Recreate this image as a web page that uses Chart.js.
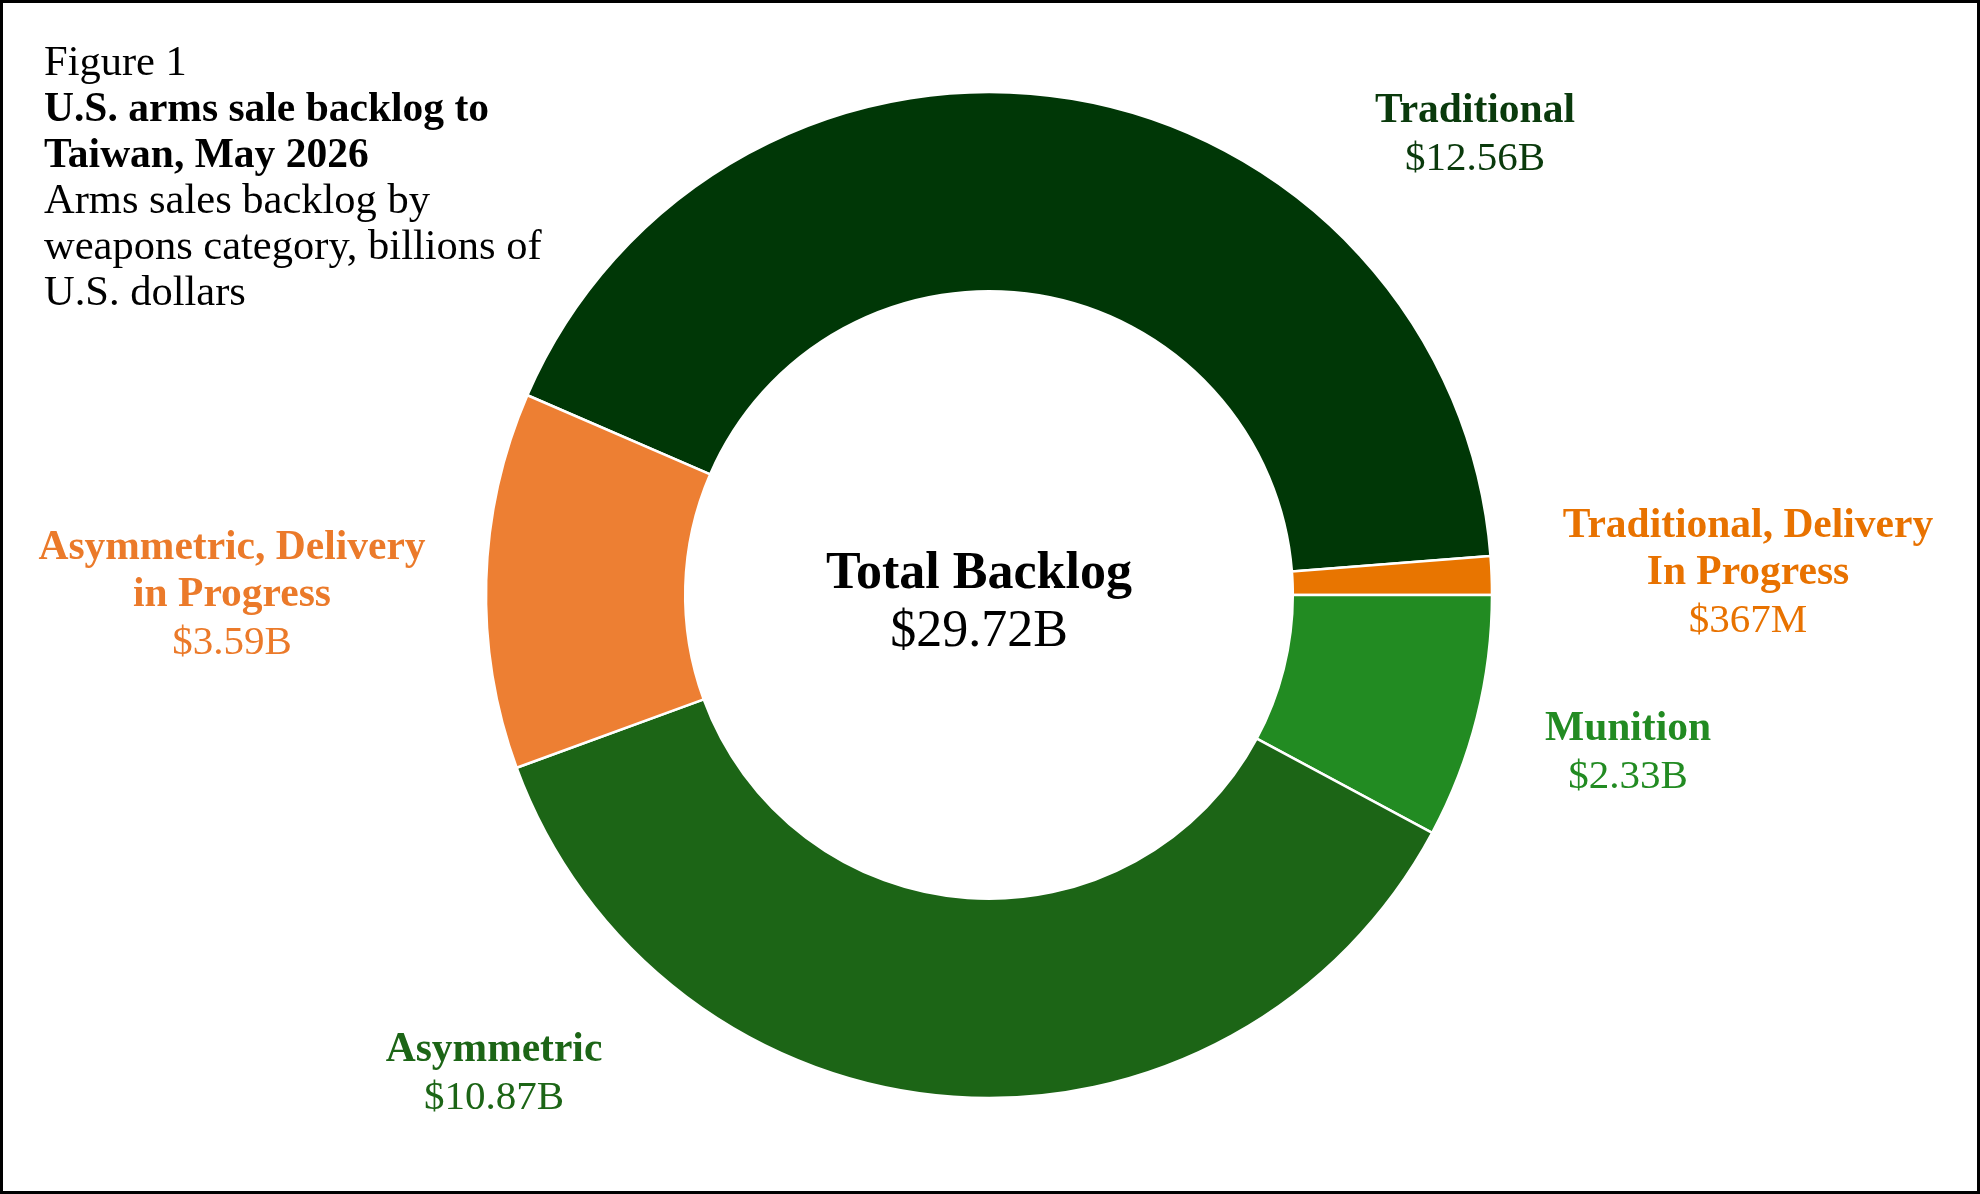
<!DOCTYPE html>
<html>
<head>
<meta charset="utf-8">
<script src="https://cdn.jsdelivr.net/npm/chart.js@4"></script>
<style>
  html, body { margin: 0; padding: 0; background: #ffffff; }
  #wrap { width: 1980px; height: 1194px; position: relative; }
  canvas { display: block; }
</style>
</head>
<body>
<div id="wrap"><canvas id="c" width="1980" height="1194"></canvas></div>
<script>
// ---- data ----
const categories = [
  "Traditional",
  "Traditional, Delivery In Progress",
  "Munition",
  "Asymmetric",
  "Asymmetric, Delivery in Progress"
];
const labelLines = [
  ["Traditional"],
  ["Traditional, Delivery", "In Progress"],
  ["Munition"],
  ["Asymmetric"],
  ["Asymmetric, Delivery", "in Progress"]
];
const valuesBillions = [12.56, 0.367, 2.33, 10.87, 3.59];
const valueLabels = ["$12.56B", "$367M", "$2.33B", "$10.87B", "$3.59B"];
const totalLabel = "Total Backlog";
const totalValue = "$29.72B";
const titleLines = [
  { text: "Figure 1", bold: false },
  { text: "U.S. arms sale backlog to", bold: true },
  { text: "Taiwan, May 2026", bold: true },
  { text: "Arms sales backlog by", bold: false },
  { text: "weapons category, billions of", bold: false },
  { text: "U.S. dollars", bold: false }
];

// ---- styles / layout ----
const sliceColors = ["#003706", "#E87500", "#228B22", "#1C6516", "#ED7F33"];
const textColors  = ["#0A3A0C", "#E87200", "#228B22", "#1C6516", "#EB7A2A"];
const FONT = "'Liberation Serif', 'Times New Roman', serif";
// label anchor offsets from chart centre (first line centre), px
const labelPos = [
  { dx: 486, dy: -484 },
  { dx: 759, dy: -69 },
  { dx: 639, dy: 134 },
  { dx: -495, dy: 455 },
  { dx: -757, dy: -47 }
];
const LINE_H = 47;

const textPlugin = {
  id: 'texts',
  afterDraw(chart) {
    const ctx = chart.ctx;
    const arc = chart.getDatasetMeta(0).data[0];
    const cx = arc.x, cy = arc.y;
    ctx.save();
    ctx.textAlign = 'center';
    ctx.textBaseline = 'middle';
    // slice labels
    labelLines.forEach((lines, i) => {
      const p = labelPos[i];
      let y = cy + p.dy;
      ctx.fillStyle = textColors[i];
      ctx.font = "bold 41.5px " + FONT;
      lines.forEach(t => { ctx.fillText(t, cx + p.dx, y); y += LINE_H; });
      ctx.font = "41px " + FONT;
      ctx.fillText(valueLabels[i], cx + p.dx, y + 1);
    });
    // centre text
    ctx.fillStyle = '#000000';
    ctx.font = "bold 52px " + FONT;
    ctx.fillText(totalLabel, cx - 10, cy - 20);
    ctx.font = "52px " + FONT;
    ctx.fillText(totalValue, cx - 10, cy + 37);
    // title block
    ctx.textAlign = 'left';
    let ty = 64;
    titleLines.forEach(l => {
      ctx.font = (l.bold ? "bold 41.5px " : "42.5px ") + FONT;
      ctx.fillText(l.text, 44, ty);
      ty += 46;
    });
    // frame
    ctx.strokeStyle = '#000000';
    ctx.lineWidth = 3;
    ctx.strokeRect(1.5, 1.5, chart.width - 3, chart.height - 3);
    ctx.restore();
  }
};

new Chart(document.getElementById('c'), {
  type: 'doughnut',
  data: {
    labels: categories,
    datasets: [{
      data: valuesBillions,
      backgroundColor: sliceColors,
      borderColor: '#ffffff',
      borderWidth: 2.5,
      hoverOffset: 0
    }]
  },
  options: {
    responsive: false,
    animation: false,
    devicePixelRatio: 1,
    rotation: -66.6,
    radius: 503,
    cutout: '60.4%',
    layout: { padding: { left: 0, right: 2, top: 0, bottom: 4 } },
    plugins: {
      legend: { display: false },
      tooltip: { enabled: false },
      title: { display: false }
    }
  },
  plugins: [textPlugin]
});
</script>
</body>
</html>
